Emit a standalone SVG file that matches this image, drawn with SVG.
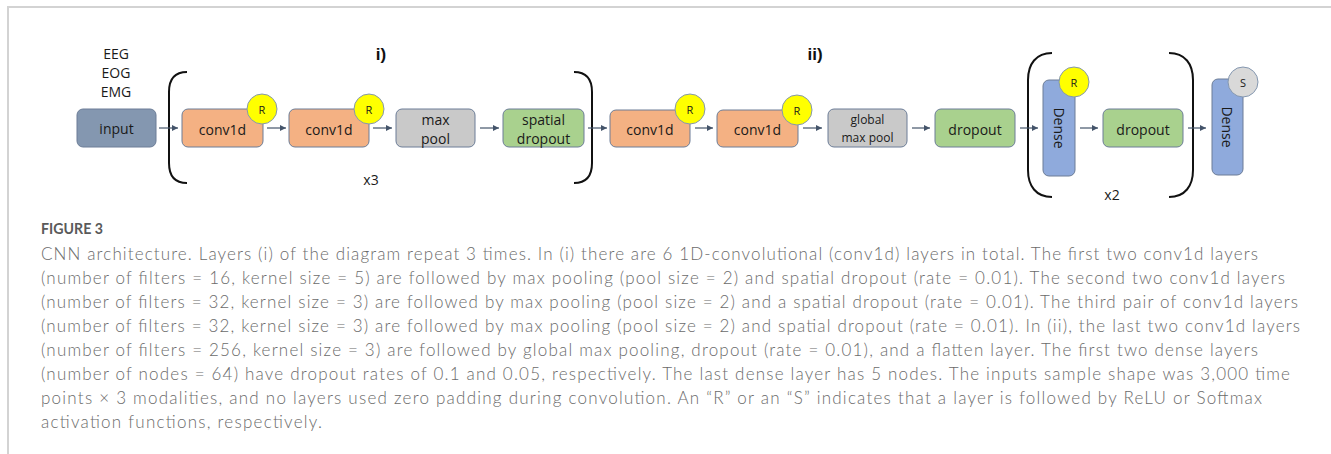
<svg xmlns="http://www.w3.org/2000/svg" width="1331" height="454" viewBox="0 0 1331 454">
<style>
.box{stroke:#6c7d97;stroke-width:1}
.lbl{font-family:"Open Sans","Liberation Sans",sans-serif;font-size:14px;fill:#1a1a1a;text-anchor:middle;dominant-baseline:central}
.sm{font-size:12px}
.act{font-family:"Open Sans","Liberation Sans",sans-serif;font-size:11px;fill:#1a1a1a;text-anchor:middle;dominant-baseline:central}
.ttl{font-family:"Liberation Sans",sans-serif;font-size:17px;font-weight:bold;fill:#111;text-anchor:middle;dominant-baseline:central}
.br{fill:none;stroke:#111;stroke-width:2}
.con{stroke:#44546a;stroke-width:1.2;fill:none;marker-end:url(#ah)}
.cap{font-family:Lato,"Open Sans",sans-serif;font-size:17px;font-weight:300;fill:#6b6b6b}
</style>
<defs>
<marker id="ah" viewBox="0 0 10 10" refX="10" refY="5" markerWidth="6" markerHeight="6" markerUnits="userSpaceOnUse" orient="auto">
<path d="M0,0 L10,5 L0,10 z" fill="#44546a"/>
</marker>
</defs>
<rect x="8" y="7" width="1400" height="500" fill="#ffffff" stroke="#d3d3d3" stroke-width="2"/>

<g id="modalities">
<text class="lbl" x="116" y="53" font-size="13">EEG</text>
<text class="lbl" x="116" y="72" font-size="13">EOG</text>
<text class="lbl" x="116" y="91" font-size="13">EMG</text>
</g>
<g id="label-i"><text class="ttl" x="381" y="54">i)</text></g>
<g id="label-ii"><text class="ttl" x="815" y="54">ii)</text></g>

<g id="brackets">
<path class="br" d="M187,72 C174,72 169,80 169,92 L169,163 C169,175 174,183 187,183"/>
<path class="br" d="M574,72 C587,72 592,80 592,92 L592,163 C592,175 587,183 574,183"/>
<path class="br" d="M1052,53 C1036,53 1028,64 1028,80 L1028,170 C1028,186 1036,197 1052,197"/>
<path class="br" d="M1169,53 C1185,53 1193,64 1193,80 L1193,170 C1193,186 1185,197 1169,197"/>
</g>
<g id="repeat-x3"><text class="lbl" x="371" y="179" font-size="13">x3</text></g>
<g id="repeat-x2"><text class="lbl" x="1112" y="194" font-size="13">x2</text></g>

<g id="connectors">
<line class="con" x1="159" y1="128" x2="178" y2="128"/>
<line class="con" x1="267" y1="128" x2="286" y2="128"/>
<line class="con" x1="373" y1="128" x2="392" y2="128"/>
<line class="con" x1="480" y1="128" x2="499" y2="128"/>
<line class="con" x1="588" y1="128" x2="607" y2="128"/>
<line class="con" x1="695" y1="128" x2="713" y2="128"/>
<line class="con" x1="803" y1="128" x2="822" y2="128"/>
<line class="con" x1="912" y1="128" x2="930" y2="128"/>
<line class="con" x1="1020" y1="128" x2="1038" y2="128"/>
<line class="con" x1="1080" y1="128" x2="1098" y2="128"/>
<line class="con" x1="1188" y1="128" x2="1206" y2="128"/>
</g>

<g id="input">
<rect class="box" x="77" y="109" width="79" height="38" rx="6" fill="#8497b0"/>
<text class="lbl" x="116.5" y="128">input</text>
</g>
<g id="conv1d-1">
<rect class="box" x="182" y="109" width="81" height="38" rx="6" fill="#f4b183"/>
<text class="lbl" x="222.5" y="129">conv1d</text>
<circle cx="262" cy="109" r="15" fill="#ffff00" stroke="#8497b0" stroke-width="1"/>
<text class="act" x="262" y="109">R</text>
</g>
<g id="conv1d-2">
<rect class="box" x="289" y="109" width="80" height="38" rx="6" fill="#f4b183"/>
<text class="lbl" x="329" y="129">conv1d</text>
<circle cx="369" cy="109" r="15" fill="#ffff00" stroke="#8497b0" stroke-width="1"/>
<text class="act" x="369" y="109">R</text>
</g>
<g id="maxpool">
<rect class="box" x="396" y="109" width="79" height="38" rx="6" fill="#c9c9c9"/>
<text class="lbl" x="435.5" y="119">max</text>
<text class="lbl" x="435.5" y="138">pool</text>
</g>
<g id="spatial-dropout">
<rect class="box" x="503" y="109" width="81" height="38" rx="6" fill="#a9d18e"/>
<text class="lbl" x="543.5" y="119">spatial</text>
<text class="lbl" x="543.5" y="138">dropout</text>
</g>
<g id="conv1d-3">
<rect class="box" x="610" y="110" width="80" height="37" rx="6" fill="#f4b183"/>
<text class="lbl" x="650" y="129">conv1d</text>
<circle cx="690" cy="109" r="15" fill="#ffff00" stroke="#8497b0" stroke-width="1"/>
<text class="act" x="690" y="109">R</text>
</g>
<g id="conv1d-4">
<rect class="box" x="717" y="110" width="81" height="37" rx="6" fill="#f4b183"/>
<text class="lbl" x="757.5" y="129">conv1d</text>
<circle cx="797" cy="110" r="15" fill="#ffff00" stroke="#8497b0" stroke-width="1"/>
<text class="act" x="797" y="110">R</text>
</g>
<g id="global-maxpool">
<rect class="box" x="828" y="109" width="79" height="38" rx="6" fill="#c9c9c9"/>
<text class="lbl sm" x="867.5" y="119">global</text>
<text class="lbl sm" x="867.5" y="137">max pool</text>
</g>
<g id="dropout-1">
<rect class="box" x="935" y="109" width="80" height="38" rx="6" fill="#a9d18e"/>
<text class="lbl" x="975" y="129">dropout</text>
</g>
<g id="dense-1">
<rect class="box" x="1043" y="80" width="32" height="96" rx="6" fill="#8faadc"/>
<text class="lbl" transform="translate(1059,128) rotate(90)" x="0" y="0" font-size="15">Dense</text>
<circle cx="1074" cy="82" r="15" fill="#ffff00" stroke="#8497b0" stroke-width="1"/>
<text class="act" x="1074" y="82">R</text>
</g>
<g id="dropout-2">
<rect class="box" x="1103" y="109" width="80" height="38" rx="6" fill="#a9d18e"/>
<text class="lbl" x="1143" y="129">dropout</text>
</g>
<g id="dense-2">
<rect class="box" x="1212" y="79" width="31" height="96" rx="6" fill="#8faadc"/>
<text class="lbl" transform="translate(1227.5,127) rotate(90)" x="0" y="0" font-size="15">Dense</text>
<circle cx="1243" cy="82" r="15" fill="#d9d9d9" stroke="#8497b0" stroke-width="1"/>
<text class="act" x="1243" y="82">S</text>
</g>

<g id="caption">
<text x="41" y="234" font-family="Lato,'Open Sans',sans-serif" font-size="15" font-weight="bold" fill="#5a5a5a" textLength="62" lengthAdjust="spacingAndGlyphs">FIGURE 3</text>
<text class="cap" x="41" y="260" textLength="1217">CNN architecture. Layers (i) of the diagram repeat 3 times. In (i) there are 6 1D-convolutional (conv1d) layers in total. The first two conv1d layers</text>
<text class="cap" x="41" y="284" textLength="1244">(number of filters = 16, kernel size = 5) are followed by max pooling (pool size = 2) and spatial dropout (rate = 0.01). The second two conv1d layers</text>
<text class="cap" x="41" y="308" textLength="1257">(number of filters = 32, kernel size = 3) are followed by max pooling (pool size = 2) and a spatial dropout (rate = 0.01). The third pair of conv1d layers</text>
<text class="cap" x="41" y="332" textLength="1259">(number of filters = 32, kernel size = 3) are followed by max pooling (pool size = 2) and spatial dropout (rate = 0.01). In (ii), the last two conv1d layers</text>
<text class="cap" x="41" y="356" textLength="1217">(number of filters = 256, kernel size = 3) are followed by global max pooling, dropout (rate = 0.01), and a flatten layer. The first two dense layers</text>
<text class="cap" x="41" y="380" textLength="1249">(number of nodes = 64) have dropout rates of 0.1 and 0.05, respectively. The last dense layer has 5 nodes. The inputs sample shape was 3,000 time</text>
<text class="cap" x="41" y="404" textLength="1221">points × 3 modalities, and no layers used zero padding during convolution. An “R” or an “S” indicates that a layer is followed by ReLU or Softmax</text>
<text class="cap" x="41" y="428" textLength="281">activation functions, respectively.</text>
</g>
</svg>
